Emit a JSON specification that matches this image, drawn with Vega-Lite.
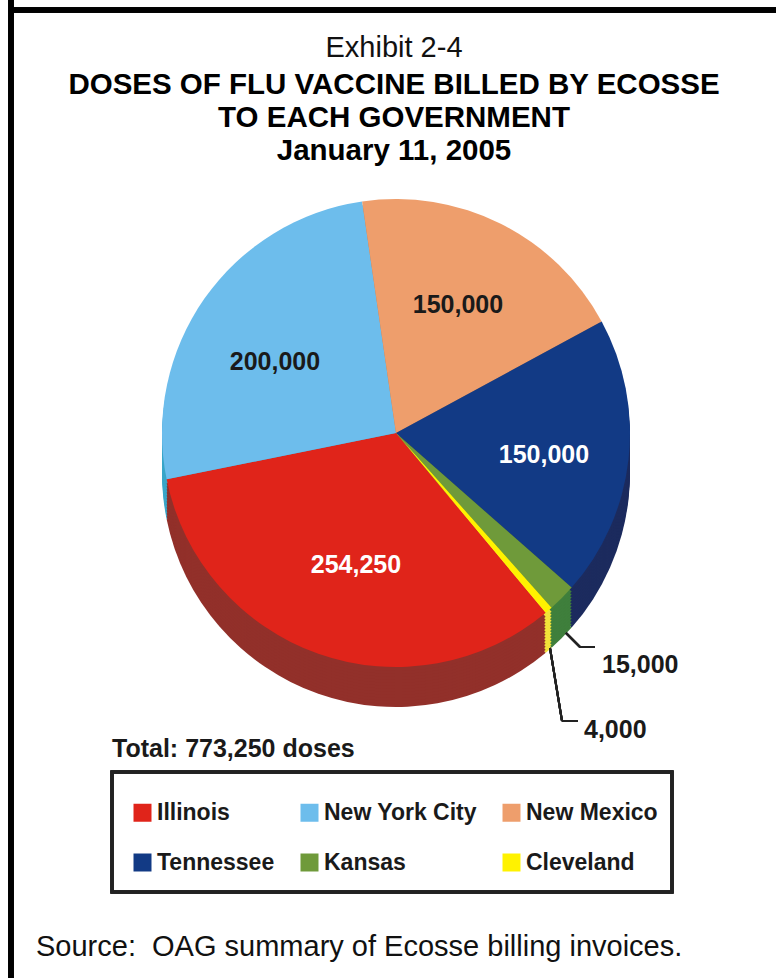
{
"$schema":"https://vega.github.io/schema/vega-lite/v6.json",
"width":776,"height":978,"padding":0,"autosize":"none","background":"white",
"view":{"stroke":null},
"title":{"text":"Exhibit 2-4","subtitle":["DOSES OF FLU VACCINE BILLED BY ECOSSE","TO EACH GOVERNMENT","January 11, 2005"],"anchor":"middle","dx":6,"offset":-168,"font":"Liberation Sans","fontSize":29,"fontWeight":"normal","color":"#111111","subtitleFont":"Liberation Sans","subtitleFontSize":29.5,"subtitleFontWeight":"bold","subtitleColor":"#000000","subtitleLineHeight":33,"subtitlePadding":8},
"data":{"values":[
{"government":"Illinois","side":"Illinois side","doses":254250,"rank":1},
{"government":"New York City","side":"New York City side","doses":200000,"rank":2},
{"government":"New Mexico","side":"New Mexico side","doses":150000,"rank":3},
{"government":"Tennessee","side":"Tennessee side","doses":150000,"rank":4},
{"government":"Kansas","side":"Kansas side","doses":15000,"rank":5},
{"government":"Cleveland","side":"Cleveland side","doses":4000,"rank":6}
]},
"layer":[
{"mark":{"type":"rule","color":"#000000","size":5},"encoding":{"x":{"datum":11,"scale":{"domain":[0,776],"range":[0,776],"nice":false,"zero":false},"axis":null}}},
{"mark":{"type":"rule","color":"#000000","size":5},"encoding":{"y":{"datum":10,"scale":{"domain":[0,978],"range":[0,978],"nice":false,"zero":false},"axis":null},"x":{"datum":9},"x2":{"datum":776}}},
{"mark":{"type":"arc","outerRadius":234},"encoding":{"x":{"datum":396},"y":{"datum":473},"theta":{"field":"doses","type":"quantitative","stack":true,"scale":{"domain":[0,773250],"range":[2.447,8.730]}},"order":{"field":"rank"},"color":{"field":"side","type":"nominal","scale":{"domain":["Illinois","New York City","New Mexico","Tennessee","Kansas","Cleveland","Illinois side","New York City side","New Mexico side","Tennessee side","Kansas side","Cleveland side"],"range":["#e0241a","#6dbdec","#ee9e6c","#123a85","#6f9a3a","#fff200","#92302a","#3aa6c8","#b87a50","#1c2b5e","#3f7f3c","#f2e23a"]}}}},
{"mark":{"type":"arc","outerRadius":234},"encoding":{"x":{"datum":396},"y":{"datum":470},"theta":{"field":"doses","type":"quantitative","stack":true},"order":{"field":"rank"},"color":{"field":"side","type":"nominal"}}},
{"mark":{"type":"arc","outerRadius":234},"encoding":{"x":{"datum":396},"y":{"datum":467},"theta":{"field":"doses","type":"quantitative","stack":true},"order":{"field":"rank"},"color":{"field":"side","type":"nominal"}}},
{"mark":{"type":"arc","outerRadius":234},"encoding":{"x":{"datum":396},"y":{"datum":464},"theta":{"field":"doses","type":"quantitative","stack":true},"order":{"field":"rank"},"color":{"field":"side","type":"nominal"}}},
{"mark":{"type":"arc","outerRadius":234},"encoding":{"x":{"datum":396},"y":{"datum":461},"theta":{"field":"doses","type":"quantitative","stack":true},"order":{"field":"rank"},"color":{"field":"side","type":"nominal"}}},
{"mark":{"type":"arc","outerRadius":234},"encoding":{"x":{"datum":396},"y":{"datum":458},"theta":{"field":"doses","type":"quantitative","stack":true},"order":{"field":"rank"},"color":{"field":"side","type":"nominal"}}},
{"mark":{"type":"arc","outerRadius":234},"encoding":{"x":{"datum":396},"y":{"datum":455},"theta":{"field":"doses","type":"quantitative","stack":true},"order":{"field":"rank"},"color":{"field":"side","type":"nominal"}}},
{"mark":{"type":"arc","outerRadius":234},"encoding":{"x":{"datum":396},"y":{"datum":452},"theta":{"field":"doses","type":"quantitative","stack":true},"order":{"field":"rank"},"color":{"field":"side","type":"nominal"}}},
{"mark":{"type":"arc","outerRadius":234},"encoding":{"x":{"datum":396},"y":{"datum":449},"theta":{"field":"doses","type":"quantitative","stack":true},"order":{"field":"rank"},"color":{"field":"side","type":"nominal"}}},
{"mark":{"type":"arc","outerRadius":234},"encoding":{"x":{"datum":396},"y":{"datum":446},"theta":{"field":"doses","type":"quantitative","stack":true},"order":{"field":"rank"},"color":{"field":"side","type":"nominal"}}},
{"mark":{"type":"arc","outerRadius":234},"encoding":{"x":{"datum":396},"y":{"datum":443},"theta":{"field":"doses","type":"quantitative","stack":true},"order":{"field":"rank"},"color":{"field":"side","type":"nominal"}}},
{"mark":{"type":"arc","outerRadius":234},"encoding":{"x":{"datum":396},"y":{"datum":440},"theta":{"field":"doses","type":"quantitative","stack":true},"order":{"field":"rank"},"color":{"field":"side","type":"nominal"}}},
{"mark":{"type":"arc","outerRadius":234},"encoding":{"x":{"datum":396},"y":{"datum":437},"theta":{"field":"doses","type":"quantitative","stack":true},"order":{"field":"rank"},"color":{"field":"side","type":"nominal"}}},
{"mark":{"type":"arc","outerRadius":234},"encoding":{"x":{"datum":396},"y":{"datum":433},"theta":{"field":"doses","type":"quantitative","stack":true},"order":{"field":"rank"},"color":{"field":"government","type":"nominal","legend":{"orient":"none","legendX":131,"legendY":801,"columns":3,"title":null,"values":["Illinois","Tennessee","New York City","Kansas","New Mexico","Cleveland"],"symbolType":"square","symbolSize":324,"symbolStrokeWidth":0,"symbolOpacity":1,"labelFont":"Liberation Sans","labelFontWeight":"bold","labelFontSize":23,"labelColor":"#1a1a1a","labelOffset":3,"padding":0,"columnPadding":23,"rowPadding":26,"gridAlign":"each"}}}},
{"transform":[{"filter":"datum.rank == 1"}],"mark":{"type":"text","font":"Liberation Sans","fontWeight":"bold","fontSize":25,"color":"#ffffff"},"encoding":{"x":{"datum":356},"y":{"datum":565},"text":{"field":"doses","type":"quantitative","format":","}}},
{"transform":[{"filter":"datum.rank == 2"}],"mark":{"type":"text","font":"Liberation Sans","fontWeight":"bold","fontSize":25,"color":"#1a1a1a"},"encoding":{"x":{"datum":275},"y":{"datum":362},"text":{"field":"doses","type":"quantitative","format":","}}},
{"transform":[{"filter":"datum.rank == 3"}],"mark":{"type":"text","font":"Liberation Sans","fontWeight":"bold","fontSize":25,"color":"#1a1a1a"},"encoding":{"x":{"datum":458},"y":{"datum":305},"text":{"field":"doses","type":"quantitative","format":","}}},
{"transform":[{"filter":"datum.rank == 4"}],"mark":{"type":"text","font":"Liberation Sans","fontWeight":"bold","fontSize":25,"color":"#ffffff"},"encoding":{"x":{"datum":544},"y":{"datum":455},"text":{"field":"doses","type":"quantitative","format":","}}},
{"transform":[{"filter":"datum.rank == 5"}],"mark":{"type":"text","font":"Liberation Sans","fontWeight":"bold","fontSize":25,"color":"#1a1a1a","align":"left","baseline":"middle"},"encoding":{"x":{"datum":602},"y":{"datum":665},"text":{"field":"doses","type":"quantitative","format":","}}},
{"transform":[{"filter":"datum.rank == 6"}],"mark":{"type":"text","font":"Liberation Sans","fontWeight":"bold","fontSize":25,"color":"#1a1a1a","align":"left","baseline":"middle"},"encoding":{"x":{"datum":584},"y":{"datum":730},"text":{"field":"doses","type":"quantitative","format":","}}},
{"mark":{"type":"rule","color":"#222222","size":2},"encoding":{"x":{"datum":566},"y":{"datum":633},"x2":{"datum":580},"y2":{"datum":647}}},
{"mark":{"type":"rule","color":"#222222","size":2},"encoding":{"x":{"datum":580},"y":{"datum":647},"x2":{"datum":595},"y2":{"datum":647}}},
{"mark":{"type":"rule","color":"#222222","size":2},"encoding":{"x":{"datum":550},"y":{"datum":648},"x2":{"datum":562},"y2":{"datum":721}}},
{"mark":{"type":"rule","color":"#222222","size":2},"encoding":{"x":{"datum":562},"y":{"datum":721},"x2":{"datum":578},"y2":{"datum":721}}},
{"mark":{"type":"rect","fill":"transparent","stroke":"#222222","strokeWidth":3},"encoding":{"x":{"datum":112},"x2":{"datum":672},"y":{"datum":772},"y2":{"datum":892}}},
{"data":{"values":[{"note":"Total: 773,250 doses"}]},"mark":{"type":"text","font":"Liberation Sans","fontWeight":"bold","fontSize":25,"color":"#1a1a1a","align":"left","baseline":"middle"},"encoding":{"x":{"datum":112},"y":{"datum":749},"text":{"field":"note"}}},
{"data":{"values":[{"note":"Source:\u00a0 OAG summary of Ecosse billing invoices."}]},"mark":{"type":"text","font":"Liberation Sans","fontSize":29,"color":"#111111","align":"left","baseline":"middle"},"encoding":{"x":{"datum":36},"y":{"datum":947},"text":{"field":"note"}}}
]
}
